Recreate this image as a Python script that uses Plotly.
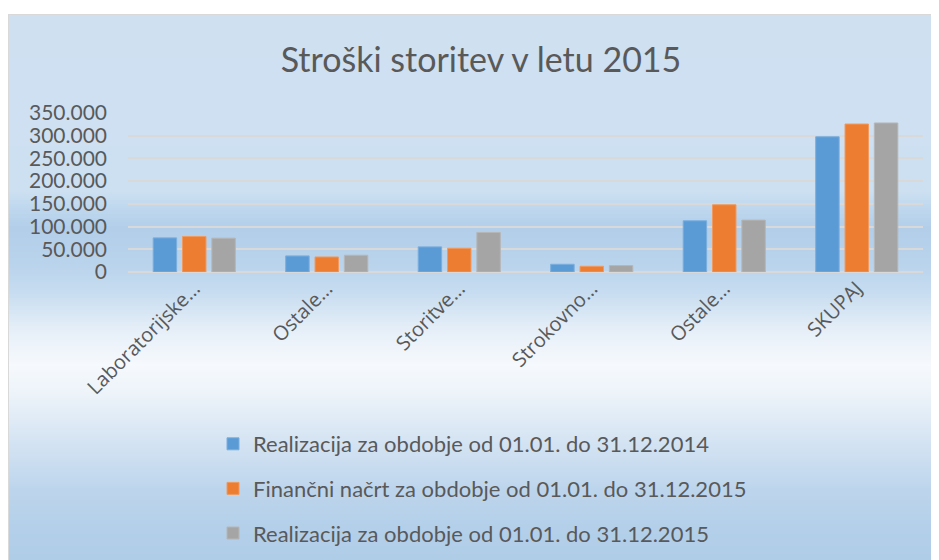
import plotly.graph_objects as go

categories = ["Laboratorijske…", "Ostale…", "Storitve…", "Strokovno…", "Ostale…", "SKUPAJ"]
series_names = [
    "Realizacija za obdobje od 01.01. do 31.12.2014",
    "Finančni načrt za obdobje od 01.01. do 31.12.2015",
    "Realizacija za obdobje od 01.01. do 31.12.2015",
]
real_2014 = [75100, 35400, 55300, 17000, 112700, 297700]
plan_2015 = [78200, 33100, 52300, 12600, 148000, 325700]
real_2015 = [74500, 36900, 87000, 14100, 114200, 328000]
y_ticks = [0, 50000, 100000, 150000, 200000, 250000, 300000, 350000]

colors = ["#5b9bd5", "#ed7d31", "#a5a5a5"]
edge = ["#7aaede", "#f09a5f", "#b6b6b6"]

# page has an 8px body margin: figure starts at window pixel 8
OFF = 8
W, H = 939, 560 - OFF
# plot area in window pixels
wx0, wx1, wy0, wy1 = 128, 923, 113, 272
L, R, T, B = wx0 - OFF, W - (wx1 - OFF), wy0 - OFF, H - (wy1 - OFF)


def pxx(x):
    return (x - wx0) / (wx1 - wx0)


def pxy(y):
    return (wy1 - y) / (wy1 - wy0)


def hex2rgb(h):
    h = h.lstrip("#")
    return tuple(int(h[i:i + 2], 16) for i in (0, 2, 4))


stops = [
    (14, "#cfe0f1"), (190, "#cde0f1"), (212, "#bcd6ed"), (228, "#b2cee9"),
    (262, "#b9d3ec"), (292, "#c6dcf0"), (330, "#e6eff8"), (365, "#f6f9fd"),
    (395, "#ecf3f9"), (440, "#d5e4f3"), (490, "#bdd5ec"), (530, "#b3cfe9"),
    (560, "#b0cde8"),
]


def color_at(y):
    for (ya, ca), (yb, cb) in zip(stops[:-1], stops[1:]):
        if ya <= y <= yb:
            t = (y - ya) / (yb - ya) if yb > ya else 0
            a, b = hex2rgb(ca), hex2rgb(cb)
            return "rgb(%d,%d,%d)" % tuple(round(a[i] + (b[i] - a[i]) * t) for i in range(3))
    return stops[-1][1]


shapes = []
step = 2
y = 14
while y < 562:
    shapes.append(dict(type="rect", xref="paper", yref="paper", layer="below",
                       x0=pxx(8), x1=pxx(960), y0=pxy(y + step + 0.5), y1=pxy(y),
                       fillcolor=color_at(y + step / 2), line=dict(width=0)))
    y += step
shapes.append(dict(type="rect", xref="paper", yref="paper", layer="below",
                   x0=pxx(8.5), x1=pxx(970), y0=pxy(570), y1=pxy(14.5),
                   fillcolor="rgba(0,0,0,0)", line=dict(color="#d9d9d9", width=1)))

x_pos = list(range(len(categories)))
fig = go.Figure()
for i, (name, vals) in enumerate(zip(series_names, [real_2014, plan_2015, real_2015])):
    fig.add_trace(go.Bar(
        x=x_pos, y=vals, name=name, legendgroup=f"g{i}",
        marker=dict(color=colors[i], line=dict(color=edge[i], width=1)),
    ))

fig.update_layout(
    width=W, height=H,
    margin=dict(l=L, r=R, t=T, b=B, pad=0, autoexpand=False),
    paper_bgcolor="white", plot_bgcolor="rgba(0,0,0,0)",
    separators=",.",
    barmode="group", bargap=0.336, bargroupgap=0.2,
    font=dict(family="Lato", color="#595959"),
    title=dict(text="Stroški storitev v letu 2015", x=pxx(481), xref="paper", xanchor="center",
               y=1 - (60 - OFF) / H, yanchor="middle",
               font=dict(family="Lato", size=34, color="#595959")),
    showlegend=True,
    legend=dict(orientation="v", x=pxx(213), xanchor="left", y=pxy(423), yanchor="top",
                bgcolor="rgba(0,0,0,0)", font=dict(family="Lato", size=22, color="#595959"),
                tracegroupgap=13, itemwidth=30),
    shapes=shapes,
)
fig.update_xaxes(
    automargin=False,
    range=[-0.5, len(categories) - 0.5], tickmode="array", tickvals=x_pos, ticktext=categories,
    tickangle=-45, tickfont=dict(family="Open Sans", size=20, color="#595959"),
    showgrid=False, zeroline=False, showline=False, ticks="",
)
fig.update_yaxes(
    automargin=False,
    range=[0, 350000], tickmode="array", tickvals=y_ticks, tickformat=",d",
    tickfont=dict(family="Lato", size=21, color="#595959"),
    showgrid=True, gridcolor="#d9d9d9", gridwidth=2, zeroline=True, zerolinecolor="#d9d9d9",
    zerolinewidth=2, showline=False, ticks="", ticklabelstandoff=20,
)
fig.write_html("out.html")
